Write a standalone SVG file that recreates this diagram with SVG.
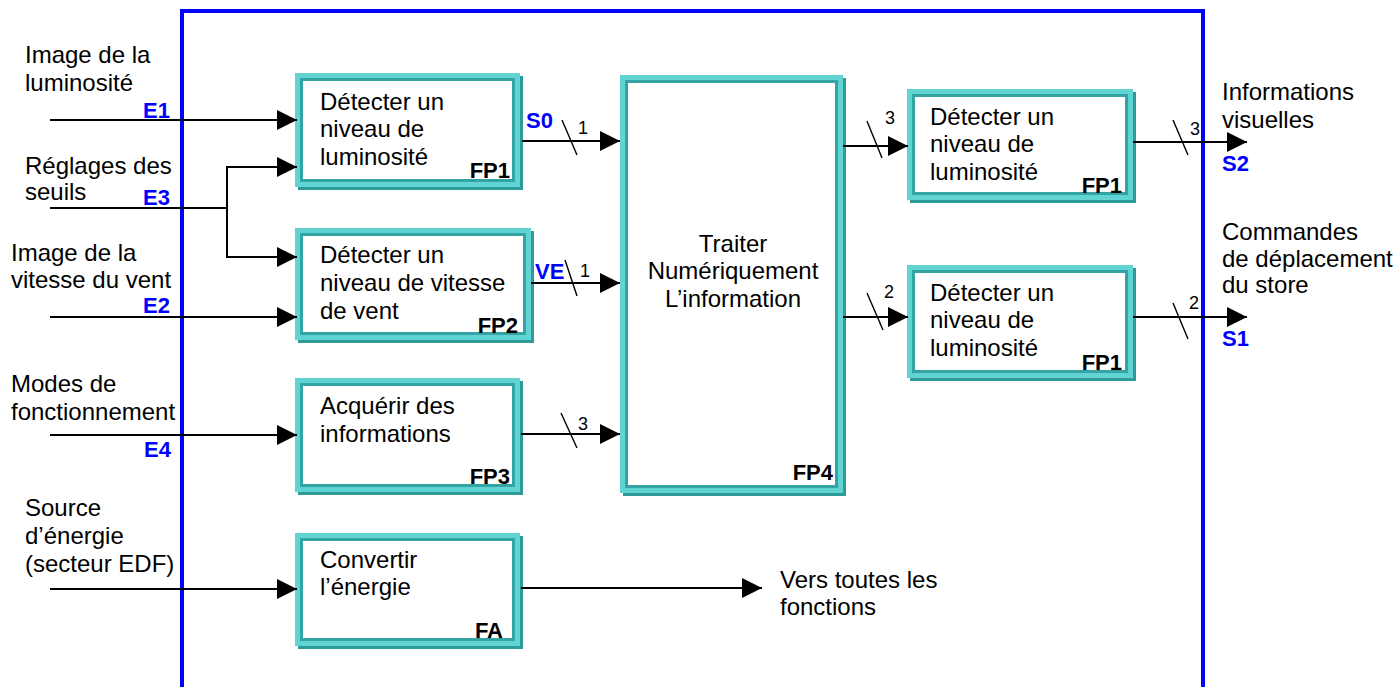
<svg xmlns="http://www.w3.org/2000/svg" width="1397" height="687" viewBox="0 0 1397 687">
<defs>
<style>
text{font-family:"Liberation Sans",Arial,sans-serif;fill:#000}
.t{font-size:24px}
.b{font-size:22px;font-weight:bold}
.blue{font-size:22px;font-weight:bold;fill:#0000ff}
.n{font-size:18px}
.ln{stroke:#000;stroke-width:2;fill:none}
.arr{marker-end:url(#ah)}
.sl{stroke:#000;stroke-width:1.4}
.sh{fill:#2f9a9a}
.o{fill:#62d3d3}
.i{fill:#33a3a3}
.w{fill:#fff}
</style>
<marker id="ah" markerUnits="userSpaceOnUse" markerWidth="20" markerHeight="20" refX="20" refY="10" orient="auto">
<path d="M0,0 L20,10 L0,20 Z" fill="#000"/>
</marker>
</defs>
<rect width="1397" height="687" fill="#fff"/>

<g id="frame">
<path d="M182,687 V11 H1203 V687" fill="none" stroke="#0000ff" stroke-width="4"/>
</g>

<g id="box-fp1">
<rect class="sh" x="298" y="76" width="225" height="114"/>
<rect class="o" x="295" y="73" width="225" height="114"/>
<rect class="i" x="300" y="78" width="215" height="104"/>
<rect class="w" x="303" y="81" width="209" height="98"/>
<text class="t" x="320" y="110">Détecter un</text>
<text class="t" x="320" y="137">niveau de</text>
<text class="t" x="320" y="165">luminosité</text>
<text class="b" x="510" y="178" text-anchor="end">FP1</text>
</g>

<g id="box-fp2">
<rect class="sh" x="298" y="231" width="236" height="112"/>
<rect class="o" x="295" y="228" width="236" height="112"/>
<rect class="i" x="300" y="233" width="226" height="102"/>
<rect class="w" x="303" y="236" width="220" height="96"/>
<text class="t" x="320" y="263">Détecter un</text>
<text class="t" x="320" y="291">niveau de vitesse</text>
<text class="t" x="320" y="319">de vent</text>
<text class="b" x="518" y="333" text-anchor="end">FP2</text>
</g>

<g id="box-fp3">
<rect class="sh" x="298" y="381" width="225" height="114"/>
<rect class="o" x="295" y="378" width="225" height="114"/>
<rect class="i" x="300" y="383" width="215" height="104"/>
<rect class="w" x="303" y="386" width="209" height="98"/>
<text class="t" x="320" y="414">Acquérir des</text>
<text class="t" x="320" y="442">informations</text>
<text class="b" x="510" y="484" text-anchor="end">FP3</text>
</g>

<g id="box-fa">
<rect class="sh" x="298" y="536" width="225" height="113"/>
<rect class="o" x="295" y="533" width="225" height="113"/>
<rect class="i" x="300" y="538" width="215" height="103"/>
<rect class="w" x="303" y="541" width="209" height="97"/>
<text class="t" x="320" y="568">Convertir</text>
<text class="t" x="320" y="595">l’énergie</text>
<text class="b" x="503" y="638" text-anchor="end">FA</text>
</g>

<g id="box-fp4">
<rect class="sh" x="623" y="78" width="223" height="418"/>
<rect class="o" x="620" y="75" width="223" height="418"/>
<rect class="i" x="625" y="80" width="213" height="408"/>
<rect class="w" x="628" y="83" width="207" height="402"/>
<text class="t" x="733" y="252" text-anchor="middle">Traiter</text>
<text class="t" x="733" y="279" text-anchor="middle">Numériquement</text>
<text class="t" x="733" y="307" text-anchor="middle">L’information</text>
<text class="b" x="833" y="480" text-anchor="end">FP4</text>
</g>

<g id="box-fp1-s2">
<rect class="sh" x="910" y="92" width="226" height="111"/>
<rect class="o" x="907" y="89" width="226" height="111"/>
<rect class="i" x="912" y="94" width="216" height="101"/>
<rect class="w" x="915" y="97" width="210" height="95"/>
<text class="t" x="930" y="125">Détecter un</text>
<text class="t" x="930" y="152">niveau de</text>
<text class="t" x="930" y="180">luminosité</text>
<text class="b" x="1122" y="193" text-anchor="end">FP1</text>
</g>

<g id="box-fp1-s1">
<rect class="sh" x="910" y="268" width="226" height="113"/>
<rect class="o" x="907" y="265" width="226" height="113"/>
<rect class="i" x="912" y="270" width="216" height="103"/>
<rect class="w" x="915" y="273" width="210" height="97"/>
<text class="t" x="930" y="301">Détecter un</text>
<text class="t" x="930" y="328">niveau de</text>
<text class="t" x="930" y="356">luminosité</text>
<text class="b" x="1122" y="370" text-anchor="end">FP1</text>
</g>

<g id="connectors">
<path class="ln arr" d="M50,120 H297"/>
<path class="ln" d="M50,208 H227 M227,166 V258"/>
<path class="ln arr" d="M226,167 H297"/>
<path class="ln arr" d="M226,257 H297"/>
<path class="ln arr" d="M50,317 H297"/>
<path class="ln arr" d="M50,435 H297"/>
<path class="ln arr" d="M50,589 H297"/>
<path class="ln arr" d="M522,141 H620"/>
<path class="ln arr" d="M531,283 H620"/>
<path class="ln arr" d="M521,434 H620"/>
<path class="ln arr" d="M521,588 H762"/>
<path class="ln arr" d="M843,146 H908"/>
<path class="ln arr" d="M843,317 H908"/>
<path class="ln arr" d="M1133,142 H1247"/>
<path class="ln arr" d="M1133,317 H1247"/>
<line class="sl" x1="562" y1="120" x2="577" y2="155"/>
<line class="sl" x1="565" y1="260" x2="577" y2="296"/>
<line class="sl" x1="561" y1="413" x2="577" y2="448"/>
<line class="sl" x1="867" y1="121" x2="882" y2="158"/>
<line class="sl" x1="867" y1="293" x2="883" y2="330"/>
<line class="sl" x1="1173" y1="120" x2="1188" y2="155"/>
<line class="sl" x1="1173" y1="303" x2="1188" y2="339"/>
<text class="n" x="578" y="134">1</text>
<text class="n" x="580" y="277">1</text>
<text class="n" x="578" y="430">3</text>
<text class="n" x="885" y="124">3</text>
<text class="n" x="884" y="298">2</text>
<text class="n" x="1190" y="135">3</text>
<text class="n" x="1189" y="309">2</text>
</g>

<g id="labels">
<text class="t" x="25" y="63">Image de la</text>
<text class="t" x="25" y="91">luminosité</text>
<text class="blue" x="170" y="118" text-anchor="end">E1</text>
<text class="t" x="25" y="174">Réglages des</text>
<text class="t" x="25" y="200">seuils</text>
<text class="blue" x="170" y="205" text-anchor="end">E3</text>
<text class="t" x="11" y="261">Image de la</text>
<text class="t" x="11" y="288">vitesse du vent</text>
<text class="blue" x="170" y="313" text-anchor="end">E2</text>
<text class="t" x="11" y="392">Modes de</text>
<text class="t" x="11" y="420">fonctionnement</text>
<text class="blue" x="171" y="457" text-anchor="end">E4</text>
<text class="t" x="25" y="516">Source</text>
<text class="t" x="25" y="544">d’énergie</text>
<text class="t" x="25" y="572">(secteur EDF)</text>
<text class="blue" x="526" y="128">S0</text>
<text class="blue" x="535" y="279">VE</text>
<text class="t" x="780" y="588">Vers toutes les</text>
<text class="t" x="780" y="615">fonctions</text>
<text class="t" x="1222" y="100">Informations</text>
<text class="t" x="1222" y="128">visuelles</text>
<text class="blue" x="1222" y="171">S2</text>
<text class="t" x="1222" y="240">Commandes</text>
<text class="t" x="1222" y="267">de déplacement</text>
<text class="t" x="1222" y="293">du store</text>
<text class="blue" x="1222" y="346">S1</text>
</g>
</svg>
